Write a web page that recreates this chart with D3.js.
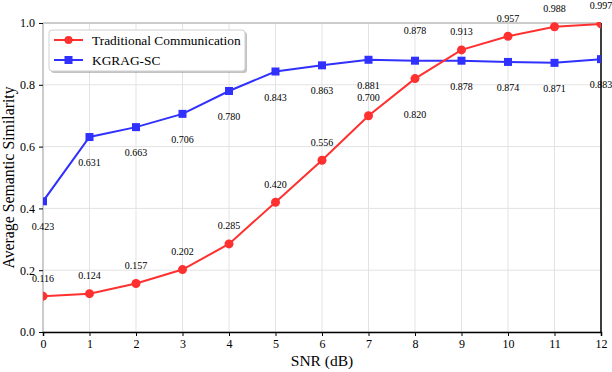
<!DOCTYPE html>
<html>
<head>
<meta charset="utf-8">
<script src="https://cdn.jsdelivr.net/npm/d3@7.9.0/dist/d3.min.js"></script>
<style>
  body { margin: 0; background: #fff; }
  svg { font-family: "Liberation Serif", "Times New Roman", serif; }
</style>
</head>
<body>
<svg width="612" height="372"></svg>
<script>
const snr = [0, 1, 2, 3, 4, 5, 6, 7, 8, 9, 10, 11, 12];
const traditional = [0.116, 0.124, 0.157, 0.202, 0.285, 0.420, 0.556, 0.700, 0.820, 0.913, 0.957, 0.988, 0.997];
const kgrag = [0.423, 0.631, 0.663, 0.706, 0.780, 0.843, 0.863, 0.881, 0.878, 0.878, 0.874, 0.871, 0.883];
const yTicks = [0.0, 0.2, 0.4, 0.6, 0.8, 1.0];

const margin = { left: 43, right: 11, top: 23, bottom: 40 };
const width = 612, height = 372;
const svg = d3.select('svg');

const x = d3.scaleLinear().domain([0, 12]).range([margin.left, width - margin.right]);
const y = d3.scaleLinear().domain([0, 1]).range([height - margin.bottom, margin.top]);

const red = '#ff3030';
const blue = '#3030ff';

// grid
svg.append('g').selectAll('line').data(snr).join('line')
  .attr('x1', d => x(d)).attr('x2', d => x(d))
  .attr('y1', y(0)).attr('y2', y(1))
  .attr('stroke', '#e3e3e3').attr('stroke-width', 1);
svg.append('g').selectAll('line').data(yTicks).join('line')
  .attr('x1', x(0)).attr('x2', x(12))
  .attr('y1', d => y(d)).attr('y2', d => y(d))
  .attr('stroke', '#e3e3e3').attr('stroke-width', 1);

// spines
svg.append('line').attr('x1', x(0)).attr('x2', x(0)).attr('y1', y(0)).attr('y2', y(1))
  .attr('stroke', '#cccccc').attr('stroke-width', 2);
svg.append('line').attr('x1', x(0)).attr('x2', x(12)).attr('y1', y(1)).attr('y2', y(1))
  .attr('stroke', '#cccccc').attr('stroke-width', 2);

// axes
const xAxis = svg.append('g')
  .attr('transform', `translate(0,${y(0)})`)
  .call(d3.axisBottom(x).tickValues(snr).tickSize(4).tickPadding(3).tickFormat(d3.format('d')));
const yAxis = svg.append('g')
  .attr('transform', `translate(${x(0)},0)`)
  .call(d3.axisLeft(y).tickValues(yTicks).tickSize(4).tickPadding(4).tickFormat(d3.format('.1f')));
[xAxis, yAxis].forEach(g => {
  g.selectAll('text').attr('font-size', 12).attr('fill', '#000')
    .attr('font-family', '"Liberation Serif", serif');
  g.selectAll('line').attr('stroke', '#000');
});
yAxis.select('.domain').remove();
xAxis.select('.domain').attr('stroke', '#000').attr('stroke-width', 1.5);
svg.append('line').attr('x1', x(12)).attr('x2', x(12)).attr('y1', y(0)).attr('y2', y(1))
  .attr('stroke', '#000').attr('stroke-width', 1.5);

// clip
svg.append('defs').append('clipPath').attr('id', 'plot')
  .append('rect').attr('x', x(0)).attr('y', y(1) - 1)
  .attr('width', x(12) - x(0)).attr('height', y(0) - y(1) + 1);

const line = d3.line().x((d, i) => x(snr[i])).y(d => y(d));
const plot = svg.append('g').attr('clip-path', 'url(#plot)');

plot.append('path').datum(kgrag).attr('d', line)
  .attr('fill', 'none').attr('stroke', blue).attr('stroke-width', 2);
plot.append('path').datum(traditional).attr('d', line)
  .attr('fill', 'none').attr('stroke', red).attr('stroke-width', 2);

plot.selectAll('rect.k').data(kgrag).join('rect').attr('class', 'k')
  .attr('x', (d, i) => x(snr[i]) - 4).attr('y', d => y(d) - 4)
  .attr('width', 8).attr('height', 8).attr('fill', blue);
plot.selectAll('circle.t').data(traditional).join('circle').attr('class', 't')
  .attr('cx', (d, i) => x(snr[i])).attr('cy', d => y(d)).attr('r', 4.5).attr('fill', red);

// value labels: red above, blue below, swapped where the curves crowd (8 dB)
const fmt = d3.format('.3f');
svg.append('g').selectAll('text').data(traditional).join('text')
  .attr('x', (d, i) => x(snr[i])).attr('y', (d, i) => y(d) + (snr[i] === 8 ? 39.5 : -14.5))
  .attr('text-anchor', 'middle').attr('font-size', 10).text(d => fmt(d));
svg.append('g').selectAll('text').data(kgrag).join('text')
  .attr('x', (d, i) => x(snr[i])).attr('y', (d, i) => y(d) + (snr[i] === 8 ? -27 : 29))
  .attr('text-anchor', 'middle').attr('font-size', 10).text(d => fmt(d));

// axis titles
svg.append('text').attr('x', (x(0) + x(12)) / 2).attr('y', 366)
  .attr('text-anchor', 'middle').attr('font-size', 15.5).text('SNR (dB)');
svg.append('text').attr('transform', `translate(14,${(y(0) + y(1)) / 2}) rotate(-90)`)
  .attr('text-anchor', 'middle').attr('font-size', 15.8).text('Average Semantic Similarity');

// legend
const legend = svg.append('g');
legend.append('rect').attr('x', 51).attr('y', 32).attr('width', 196).attr('height', 41)
  .attr('rx', 3).attr('fill', '#888').attr('opacity', 0.5);
legend.append('rect').attr('x', 49).attr('y', 30).attr('width', 196).attr('height', 41)
  .attr('rx', 3).attr('fill', '#fff').attr('stroke', '#d0d0d0');
const entries = [
  { name: 'Traditional Communication', color: red, shape: 'circle' },
  { name: 'KGRAG-SC', color: blue, shape: 'square' }
];
entries.forEach((e, i) => {
  const cy = 40 + i * 20;
  legend.append('line').attr('x1', 54).attr('x2', 83).attr('y1', cy).attr('y2', cy)
    .attr('stroke', e.color).attr('stroke-width', 2);
  if (e.shape === 'circle') {
    legend.append('circle').attr('cx', 68.5).attr('cy', cy).attr('r', 4).attr('fill', e.color);
  } else {
    legend.append('rect').attr('x', 64.5).attr('y', cy - 4).attr('width', 8).attr('height', 8).attr('fill', e.color);
  }
  legend.append('text').attr('x', 92).attr('y', cy + 4.5).attr('font-size', 13.4).text(e.name);
});
</script>
</body>
</html>
